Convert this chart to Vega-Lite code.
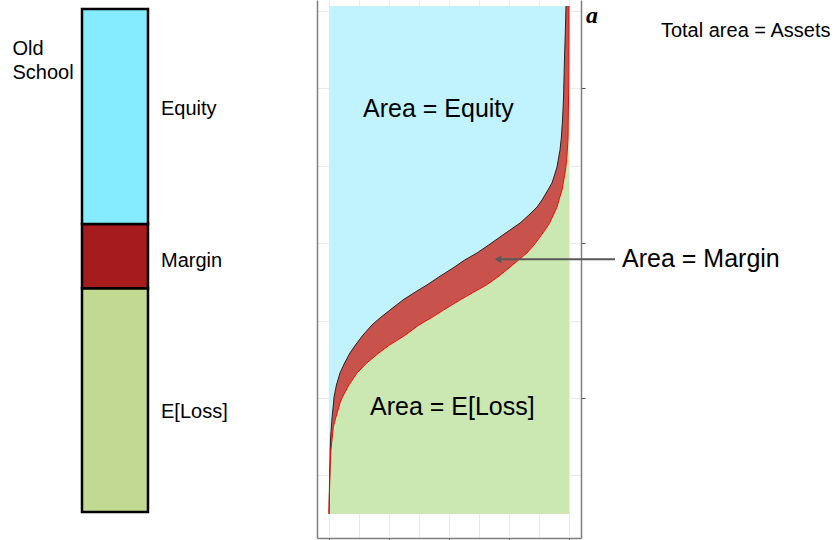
{
  "$schema": "https://vega.github.io/schema/vega-lite/v6.json",
  "background": "white",
  "padding": 0,
  "spacing": 17,
  "config": {
    "view": {"stroke": null},
    "text": {"font": "Liberation Sans", "color": "#000000"},
    "axis": {"labels": false, "domainColor": "#7f7f7f", "domainWidth": 1.5, "gridColor": "#ebebeb", "gridWidth": 1, "tickColor": "#4d4d4d", "tickWidth": 1, "tickSize": 4}
  },
  "hconcat": [
    {
      "width": 300,
      "height": 538,
      "data": {"values": [
        {"col": "Old School", "part": "E[Loss]", "lo": 0, "hi": 44.5, "labelAt": 18.69},
        {"col": "Old School", "part": "Margin", "lo": 44.5, "hi": 57.26, "labelAt": 48.71},
        {"col": "Old School", "part": "Equity", "lo": 57.26, "hi": 100, "labelAt": 78.83}
      ]},
      "layer": [
        {
          "mark": {"type": "bar", "stroke": "#000000", "strokeWidth": 2.5},
          "encoding": {
            "x": {"field": "col", "type": "nominal", "axis": null, "scale": {"paddingInner": 0.4359, "paddingOuter": 1, "align": 0.3504}},
            "y": {"field": "lo", "type": "quantitative", "axis": null, "scale": {"domain": [-5.17, 101.79], "nice": false, "zero": false}},
            "y2": {"field": "hi"},
            "color": {"field": "part", "type": "nominal", "legend": null, "scale": {"domain": ["Equity", "Margin", "E[Loss]"], "range": ["#85ebff", "#a61c1c", "#c1d990"]}}
          }
        },
        {
          "mark": {"type": "text", "align": "left", "baseline": "alphabetic", "fontSize": 20, "dx": 13},
          "encoding": {
            "x": {"field": "col", "type": "nominal", "bandPosition": 1},
            "y": {"field": "labelAt", "type": "quantitative"},
            "text": {"field": "part"}
          }
        },
        {
          "data": {"values": [{"col": "Old School", "title": "Old\nSchool", "at": 90.8}]},
          "mark": {"type": "text", "align": "left", "baseline": "alphabetic", "fontSize": 20, "lineBreak": "\n", "lineHeight": 24, "dx": -69.5},
          "encoding": {
            "x": {"field": "col", "type": "nominal", "bandPosition": 0},
            "y": {"field": "at", "type": "quantitative"},
            "text": {"field": "title"}
          }
        }
      ]
    },
    {
      "width": 264,
      "height": 538,
      "resolve": {"axis": {"y": "independent"}},
      "data": {"values": [
        {"loss": 0.251, "g": 0, "s": 0},
        {"loss": 0.341, "g": 0.001, "s": 0.001},
        {"loss": 0.451, "g": 0.002, "s": 0.003},
        {"loss": 0.567, "g": 0.004, "s": 0.005},
        {"loss": 0.664, "g": 0.005, "s": 0.008},
        {"loss": 0.729, "g": 0.006, "s": 0.0125},
        {"loss": 0.813, "g": 0.010, "s": 0.018},
        {"loss": 0.877, "g": 0.013, "s": 0.029},
        {"loss": 0.968, "g": 0.019, "s": 0.046},
        {"loss": 1.006, "g": 0.021, "s": 0.056},
        {"loss": 1.084, "g": 0.031, "s": 0.083},
        {"loss": 1.162, "g": 0.046, "s": 0.117},
        {"loss": 1.226, "g": 0.065, "s": 0.157},
        {"loss": 1.291, "g": 0.0875, "s": 0.208},
        {"loss": 1.342, "g": 0.110, "s": 0.252},
        {"loss": 1.407, "g": 0.142, "s": 0.319},
        {"loss": 1.472, "g": 0.179, "s": 0.375},
        {"loss": 1.517, "g": 0.2125, "s": 0.425},
        {"loss": 1.568, "g": 0.254, "s": 0.477},
        {"loss": 1.633, "g": 0.308, "s": 0.546},
        {"loss": 1.685, "g": 0.360, "s": 0.604},
        {"loss": 1.730, "g": 0.408, "s": 0.656},
        {"loss": 1.782, "g": 0.458, "s": 0.704},
        {"loss": 1.840, "g": 0.517, "s": 0.750},
        {"loss": 1.891, "g": 0.565, "s": 0.790},
        {"loss": 1.937, "g": 0.617, "s": 0.825},
        {"loss": 1.988, "g": 0.665, "s": 0.854},
        {"loss": 2.040, "g": 0.7125, "s": 0.879},
        {"loss": 2.085, "g": 0.754, "s": 0.900},
        {"loss": 2.130, "g": 0.796, "s": 0.919},
        {"loss": 2.182, "g": 0.833, "s": 0.935},
        {"loss": 2.234, "g": 0.867, "s": 0.950},
        {"loss": 2.279, "g": 0.8875, "s": 0.958},
        {"loss": 2.344, "g": 0.9125, "s": 0.971},
        {"loss": 2.389, "g": 0.929, "s": 0.976},
        {"loss": 2.441, "g": 0.940, "s": 0.982},
        {"loss": 2.492, "g": 0.950, "s": 0.987},
        {"loss": 2.537, "g": 0.955, "s": 0.990},
        {"loss": 2.602, "g": 0.9625, "s": 0.993},
        {"loss": 2.680, "g": 0.968, "s": 0.996},
        {"loss": 2.796, "g": 0.973, "s": 0.997},
        {"loss": 2.925, "g": 0.977, "s": 0.998},
        {"loss": 3.054, "g": 0.979, "s": 0.999},
        {"loss": 3.183, "g": 0.981, "s": 0.9996},
        {"loss": 3.377, "g": 0.985, "s": 1},
        {"loss": 3.532, "g": 0.9875, "s": 1}
      ]},
      "layer": [
        {
          "mark": {"type": "area", "orient": "horizontal", "color": "#c1f3fe"},
          "encoding": {
            "y": {"field": "loss", "type": "quantitative", "title": null, "scale": {"domain": [0.0956, 3.571], "nice": false, "zero": false}, "axis": {"orient": "left", "values": [0.5, 1, 1.5, 2, 2.5, 3, 3.5], "grid": true, "ticks": false}},
            "x": {"field": "g", "type": "quantitative", "title": null, "scale": {"domain": [-0.05, 1.05], "nice": false, "zero": false}, "axis": {"values": [0, 0.125, 0.25, 0.375, 0.5, 0.625, 0.75, 0.875, 1], "grid": true, "tickSize": 5, "tickOpacity": {"condition": {"test": "datum.value % 0.25 === 0", "value": 1}, "value": 0}}},
            "x2": {"datum": 0}
          }
        },
        {
          "mark": {"type": "area", "orient": "horizontal", "color": "#c8534c"},
          "encoding": {
            "y": {"field": "loss", "type": "quantitative", "title": null, "scale": {"domain": [0.0956, 3.571], "nice": false, "zero": false}, "axis": {"orient": "right", "values": [1, 2, 3], "grid": false, "ticks": true}},
            "x": {"field": "g", "type": "quantitative", "title": null, "scale": {"domain": [-0.05, 1.05], "nice": false, "zero": false}, "axis": {"values": [0, 0.125, 0.25, 0.375, 0.5, 0.625, 0.75, 0.875, 1], "grid": true, "tickSize": 5, "tickOpacity": {"condition": {"test": "datum.value % 0.25 === 0", "value": 1}, "value": 0}}},
            "x2": {"field": "s"}
          }
        },
        {
          "mark": {"type": "area", "orient": "horizontal", "color": "#cce8b2"},
          "encoding": {
            "y": {"field": "loss", "type": "quantitative", "title": null, "axis": null},
            "x": {"field": "s", "type": "quantitative", "title": null, "axis": {"values": [0, 0.125, 0.25, 0.375, 0.5, 0.625, 0.75, 0.875, 1], "grid": true, "tickSize": 5, "tickOpacity": {"condition": {"test": "datum.value % 0.25 === 0", "value": 1}, "value": 0}}},
            "x2": {"datum": 1}
          }
        },
        {
          "mark": {"type": "line", "color": "#222222", "strokeWidth": 1},
          "encoding": {
            "y": {"field": "loss", "type": "quantitative", "title": null, "axis": null},
            "x": {"field": "g", "type": "quantitative", "title": null, "axis": {"values": [0, 0.125, 0.25, 0.375, 0.5, 0.625, 0.75, 0.875, 1], "grid": true, "tickSize": 5, "tickOpacity": {"condition": {"test": "datum.value % 0.25 === 0", "value": 1}, "value": 0}}},
            "order": {"field": "loss", "type": "quantitative"}
          }
        },
        {
          "mark": {"type": "line", "color": "#ff0000", "strokeWidth": 1},
          "encoding": {
            "y": {"field": "loss", "type": "quantitative", "title": null, "axis": null},
            "x": {"field": "s", "type": "quantitative", "title": null, "axis": {"values": [0, 0.125, 0.25, 0.375, 0.5, 0.625, 0.75, 0.875, 1], "grid": true, "tickSize": 5, "tickOpacity": {"condition": {"test": "datum.value % 0.25 === 0", "value": 1}, "value": 0}}},
            "order": {"field": "loss", "type": "quantitative"}
          }
        },
        {
          "data": {"values": [
            {"t": "Area = Equity", "px": 0.1417, "py": 2.815},
            {"t": "Area = E[Loss]", "px": 0.1708, "py": 0.89},
            {"t": "Area = Margin", "px": 1.221, "py": 1.844}
          ]},
          "mark": {"type": "text", "align": "left", "baseline": "alphabetic", "fontSize": 25},
          "encoding": {
            "y": {"field": "py", "type": "quantitative", "title": null, "axis": null},
            "x": {"field": "px", "type": "quantitative", "title": null, "axis": {"values": [0, 0.125, 0.25, 0.375, 0.5, 0.625, 0.75, 0.875, 1], "grid": true, "tickSize": 5, "tickOpacity": {"condition": {"test": "datum.value % 0.25 === 0", "value": 1}, "value": 0}}},
            "text": {"field": "t"}
          }
        },
        {
          "data": {"values": [{"t": "Total area = Assets", "px": 1.383, "py": 3.334}]},
          "mark": {"type": "text", "align": "left", "baseline": "alphabetic", "fontSize": 20},
          "encoding": {
            "y": {"field": "py", "type": "quantitative", "title": null, "axis": null},
            "x": {"field": "px", "type": "quantitative", "title": null, "axis": {"values": [0, 0.125, 0.25, 0.375, 0.5, 0.625, 0.75, 0.875, 1], "grid": true, "tickSize": 5, "tickOpacity": {"condition": {"test": "datum.value % 0.25 === 0", "value": 1}, "value": 0}}},
            "text": {"field": "t"}
          }
        },
        {
          "data": {"values": [{"t": "a", "px": 1.071, "py": 3.424}]},
          "mark": {"type": "text", "align": "left", "baseline": "alphabetic", "fontSize": 24, "font": "Liberation Serif", "fontStyle": "italic", "fontWeight": "bold"},
          "encoding": {
            "y": {"field": "py", "type": "quantitative", "title": null, "axis": null},
            "x": {"field": "px", "type": "quantitative", "title": null, "axis": {"values": [0, 0.125, 0.25, 0.375, 0.5, 0.625, 0.75, 0.875, 1], "grid": true, "tickSize": 5, "tickOpacity": {"condition": {"test": "datum.value % 0.25 === 0", "value": 1}, "value": 0}}},
            "text": {"field": "t"}
          }
        },
        {
          "data": {"values": [{"from": 1.1917, "to": 0.704, "at": 1.896}]},
          "mark": {"type": "rule", "color": "#595959", "strokeWidth": 2},
          "encoding": {
            "y": {"field": "at", "type": "quantitative", "title": null, "axis": null},
            "x": {"field": "from", "type": "quantitative", "title": null, "axis": {"values": [0, 0.125, 0.25, 0.375, 0.5, 0.625, 0.75, 0.875, 1], "grid": true, "tickSize": 5, "tickOpacity": {"condition": {"test": "datum.value % 0.25 === 0", "value": 1}, "value": 0}}},
            "x2": {"field": "to"}
          }
        },
        {
          "data": {"values": [{"tip": 0.704, "at": 1.896}]},
          "mark": {"type": "point", "shape": "triangle-left", "filled": true, "color": "#595959", "size": 60, "opacity": 1},
          "encoding": {
            "y": {"field": "at", "type": "quantitative", "title": null, "axis": null},
            "x": {"field": "tip", "type": "quantitative", "title": null, "axis": {"values": [0, 0.125, 0.25, 0.375, 0.5, 0.625, 0.75, 0.875, 1], "grid": true, "tickSize": 5, "tickOpacity": {"condition": {"test": "datum.value % 0.25 === 0", "value": 1}, "value": 0}}}
          }
        }
      ]
    }
  ]
}
